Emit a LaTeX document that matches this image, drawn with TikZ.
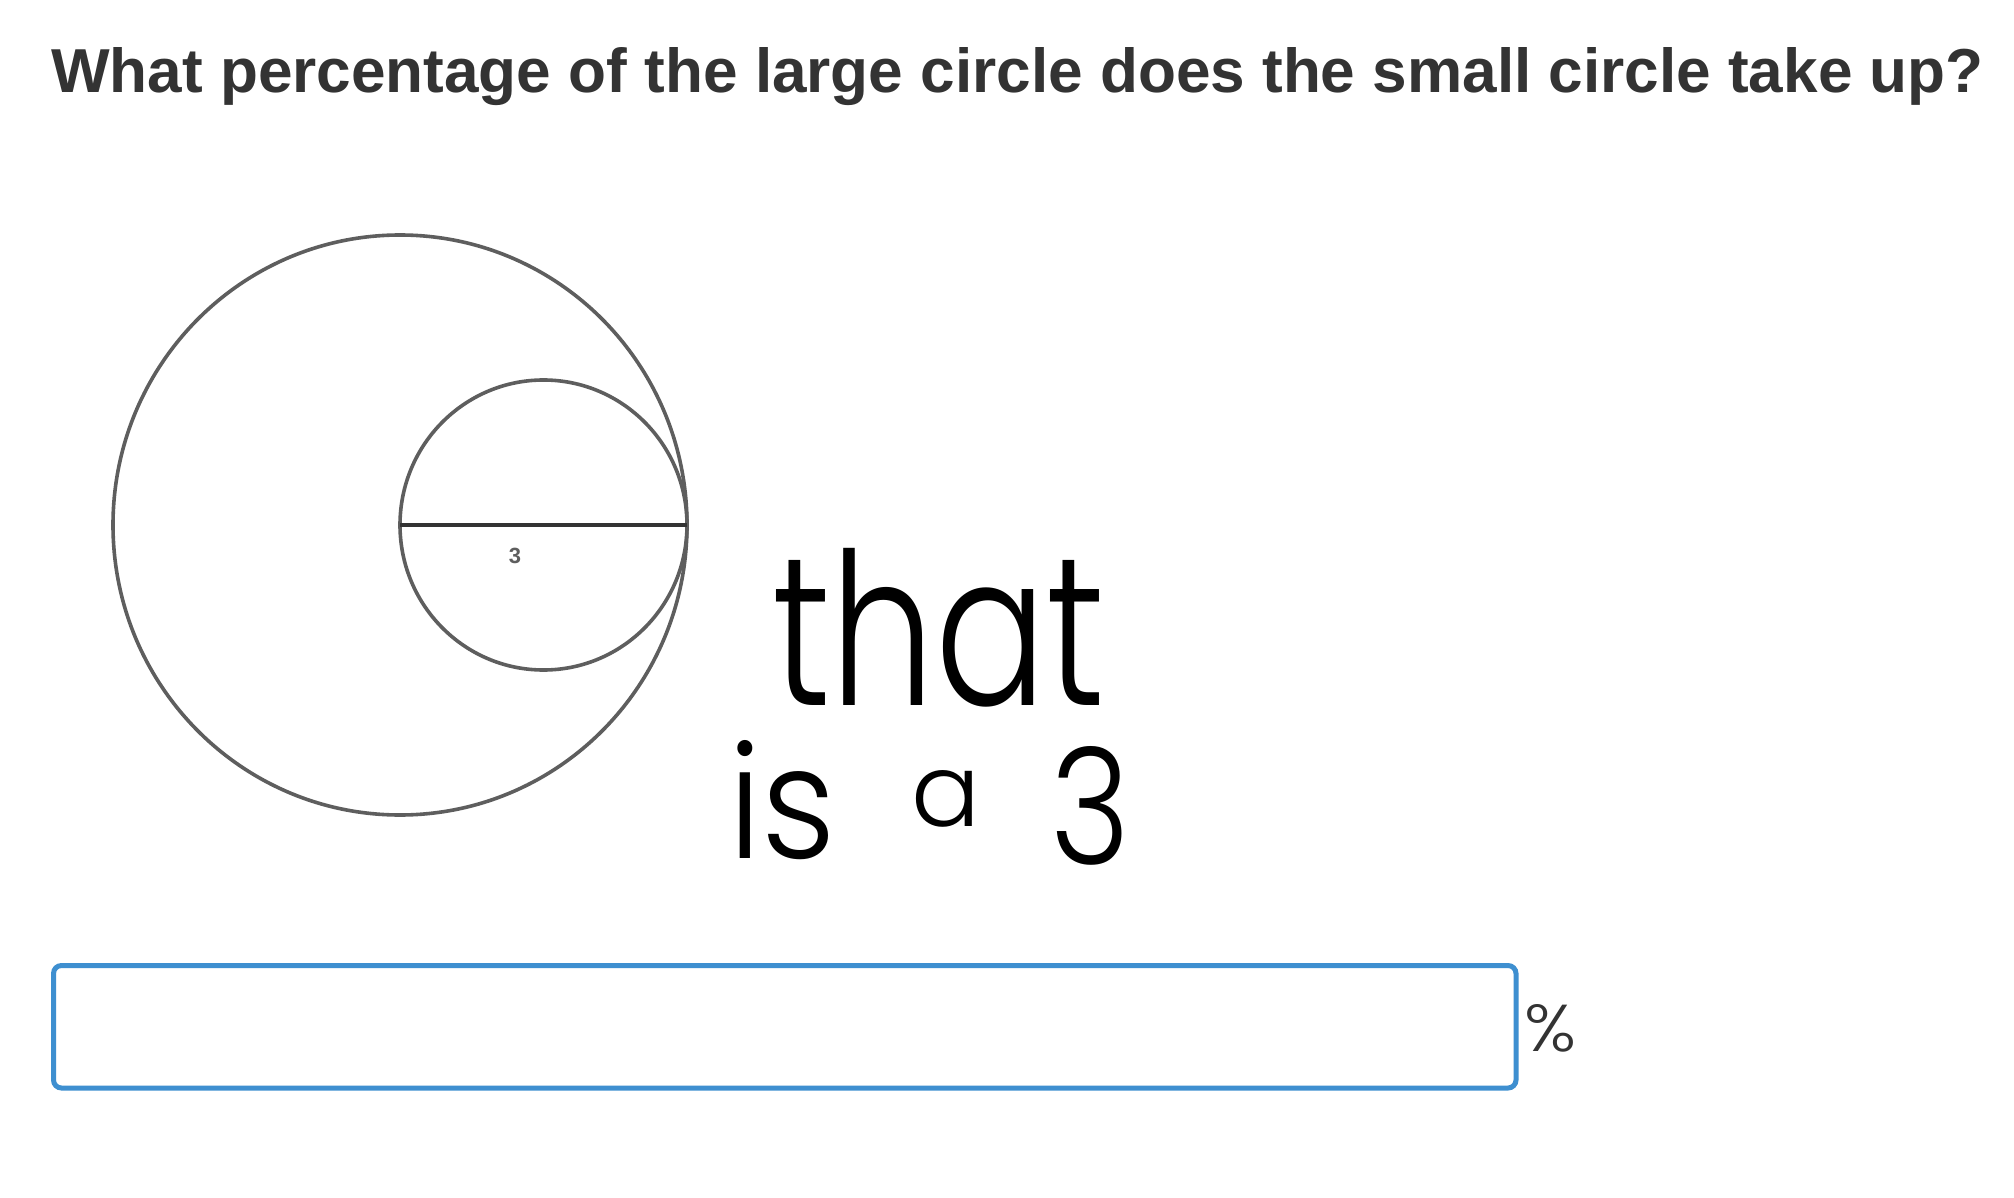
\documentclass[tikz,border=0pt]{standalone}
\usepackage{fontspec}
\usepackage{graphicx}
\setmainfont{Liberation Sans}
\newfontfamily\handfont{Poppins Light}
\definecolor{titlegray}{HTML}{333333}
\definecolor{circgray}{HTML}{5E5E5E}
\definecolor{boxblue}{HTML}{3E8FD0}
\tikzset{
  circ/.style={draw=circgray, line width=3.6pt},
  diam/.style={draw=titlegray, line width=3.4pt},
  lbl/.style={inner sep=0pt, text=circgray, font=\fontsize{22}{24}\selectfont\bfseries},
  hand/.style={inner sep=0pt, anchor=south west, text=black},
  answerbox/.style={draw=boxblue, line width=5pt, rounded corners=8pt, inner sep=0pt},
}
\begin{document}
\begin{tikzpicture}[x=1pt,y=-1pt]
\useasboundingbox (0,0) rectangle (2014,1198);
\fill[white] (0,0) rectangle (2014,1198);
% title
\node[anchor=base west, inner sep=0pt, text=titlegray] (title) at (51,93)
  {\resizebox{1932pt}{45pt}{\bfseries What percentage of the large circle does the small circle take up?}};
% circles
\coordinate (C) at (400,525);
\coordinate (c) at (543.5,525);
\coordinate (T) at (687,525);
\draw[circ] (C) ellipse [x radius=287, y radius=290];
\draw[circ] (c) ellipse [x radius=143.5, y radius=145];
\draw[diam] (C) -- (T);
\node[lbl] (three) at (515,556) {3};
% handwriting
\node[hand] (that) at (772,707) {\resizebox{333pt}{157pt}{\handfont that}};
\node[hand] (is) at (728,860) {\resizebox{108pt}{118pt}{\handfont is}};
\node[hand] (a) at (911,828) {\resizebox{69pt}{56pt}{\handfont a}};
\node[hand] (three2) at (1050,866) {\resizebox{80pt}{118pt}{\handfont 3}};
% answer box
\node[answerbox, minimum width=1462.5pt, minimum height=122.5pt] (answer) at (784.75,1026.75) {};
\node[inner sep=0pt, anchor=south west, text=titlegray] (pct) at (1524,1052) {\resizebox{52pt}{47pt}{\handfont\%}};
\end{tikzpicture}
\end{document}
